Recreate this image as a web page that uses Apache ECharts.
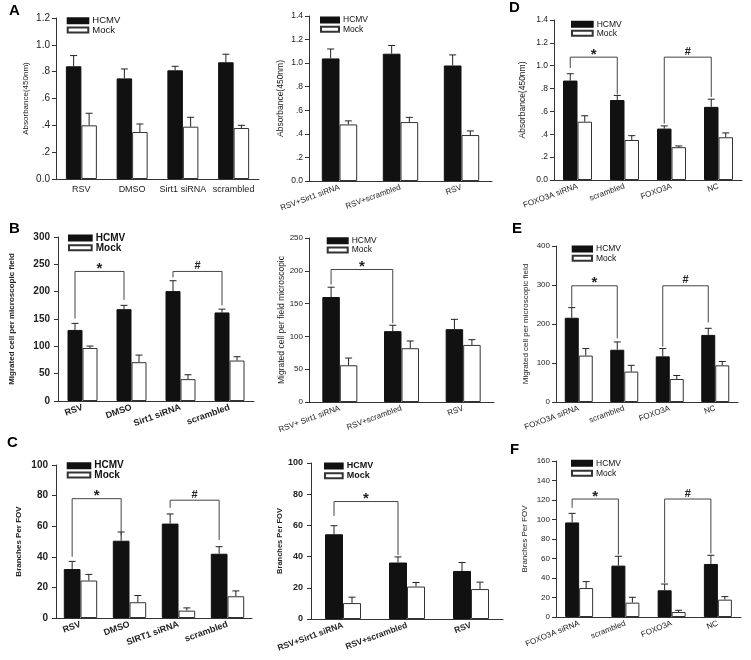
<!DOCTYPE html>
<html><head><meta charset="utf-8">
<script src="https://cdn.jsdelivr.net/npm/echarts@6/dist/echarts.min.js"></script>
<style>html,body{margin:0;padding:0;background:#fff}#c{width:751px;height:660px}</style>
</head><body><div id="c"></div>
<script>
// ---------- DATA ----------
var seriesNames = ['HCMV', 'Mock'];

// Panel A (left)
var A1_cats = ['RSV', 'DMSO', 'Sirt1 siRNA', 'scrambled'];
var A1_hcmv = [0.84, 0.75, 0.81, 0.87];
var A1_hcmvErr = [0.08, 0.07, 0.03, 0.06];
var A1_mock = [0.40, 0.35, 0.39, 0.38];
var A1_mockErr = [0.09, 0.06, 0.07, 0.02];
var A1_brackets = [];

// Panel A (right)
var A2_cats = ['RSV+Sirt1 siRNA', 'RSV+scrambled', 'RSV'];
var A2_hcmv = [1.04, 1.08, 0.98];
var A2_hcmvErr = [0.08, 0.07, 0.09];
var A2_mock = [0.48, 0.50, 0.39];
var A2_mockErr = [0.03, 0.04, 0.035];
var A2_brackets = [];

// Panel D
var D_cats = ['FOXO3A siRNA', 'scrambled', 'FOXO3A', 'NC'];
var D_hcmv = [0.87, 0.70, 0.45, 0.64];
var D_hcmvErr = [0.06, 0.04, 0.023, 0.067];
var D_mock = [0.51, 0.35, 0.287, 0.374];
var D_mockErr = [0.052, 0.038, 0.011, 0.038];
var D_brackets = [[0, 1, 1.075, 0.98, 0.75, '*'], [2, 3, 1.075, 0.494, 0.727, '#']];

// Panel B (left)
var B1_cats = ['RSV', 'DMSO', 'Sirt1 siRNA', 'scrambled'];
var B1_hcmv = [130, 168, 201, 162];
var B1_hcmvErr = [12, 7, 19, 6];
var B1_mock = [97, 71, 40, 74];
var B1_mockErr = [3.5, 13, 8, 7];
var B1_brackets = [[0, 1, 237, 151, 185, '*'], [2, 3, 237, 226, 175, '#']];

// Panel B (right)
var B2_cats = ['RSV+ Sirt1 siRNA', 'RSV+scrambled', 'RSV'];
var B2_hcmv = [160, 108, 111];
var B2_hcmvErr = [15, 9, 15];
var B2_mock = [56, 82, 87];
var B2_mockErr = [11, 11, 8];
var B2_brackets = [[0, 1, 202, 179, 120, '*']];

// Panel E
var E_cats = ['FOXO3A siRNA', 'scrambled', 'FOXO3A', 'NC'];
var E_hcmv = [216, 134, 117, 172];
var E_hcmvErr = [26, 20, 20, 17];
var E_mock = [119, 78, 59, 94];
var E_mockErr = [18, 16, 9, 10];
var E_brackets = [[0, 1, 298, 244, 163, '*'], [2, 3, 298, 142, 204, '#']];

// Panel C (left)
var C1_cats = ['RSV', 'DMSO', 'SIRT1 siRNA', 'scrambled'];
var C1_hcmv = [32, 50.5, 61.7, 42];
var C1_hcmvErr = [5, 5.7, 6.3, 4.6];
var C1_mock = [24.5, 10.3, 4.8, 14.2];
var C1_mockErr = [4, 4.4, 1.8, 3.5];
var C1_brackets = [[0, 1, 78, 40, 54, '*'], [2, 3, 77, 72, 51, '#']];

// Panel C (right)
var C2_cats = ['RSV+Sirt1 siRNA', 'RSV+scrambled', 'RSV'];
var C2_hcmv = [54.3, 36.2, 30.8];
var C2_hcmvErr = [5.5, 3.6, 5.4];
var C2_mock = [10.2, 20.8, 19.2];
var C2_mockErr = [3.8, 2.6, 4.4];
var C2_brackets = [[0, 1, 75.3, 66, 41, '*']];

// Panel F
var F_cats = ['FOXO3A siRNA', 'scrambled', 'FOXO3A', 'NC'];
var F_hcmv = [97, 52.7, 27.4, 54.4];
var F_hcmvErr = [9.3, 9.6, 6.4, 8.9];
var F_mock = [29.7, 14.7, 5.1, 17.8];
var F_mockErr = [6.6, 5.5, 1.8, 3.1];
var F_brackets = [[0, 1, 121, 112, 64, '*'], [2, 3, 121, 35, 65, '#']];

// ---------- LAYOUT ----------
var FONT = '"Liberation Sans", Arial, sans-serif';
function absFmt(v) { if (v === 0) return '0.0'; var s = v.toFixed(1); return v < 1 ? s.replace(/^0/, '') : s; }

var panels = [
  { letter: 'A', lx: 9, ly: 3, cats: A1_cats, h: A1_hcmv, he: A1_hcmvErr, m: A1_mock, me: A1_mockErr, br: A1_brackets,
    grid: [56, 18, 203, 161], max: 1.2, itv: 0.2, fmt: absFmt, name: 'Absorbance(450nm)', nameGap: 26, nameFs: 8,
    bw: 15.5, rot: 0, xfs: 9, yfs: 10, bold: false, leg: [66.7, 20.7, 9.3, 20.6, 9.5] },
  { cats: A2_cats, h: A2_hcmv, he: A2_hcmvErr, m: A2_mock, me: A2_mockErr, br: A2_brackets,
    grid: [309, 16, 183, 165], max: 1.4, itv: 0.2, fmt: absFmt, name: 'Absorbance(450nm)', nameGap: 24, nameFs: 8.5,
    bw: 17.7, rot: 20, xfs: 8, yfs: 8.5, bold: false, leg: [320, 20, 9.3, 18, 8.5] },
  { letter: 'D', lx: 509, ly: 0, cats: D_cats, h: D_hcmv, he: D_hcmvErr, m: D_mock, me: D_mockErr, br: D_brackets,
    grid: [554, 20, 188, 160], max: 1.4, itv: 0.2, fmt: absFmt, name: 'Absorbance(450nm)', nameGap: 27, nameFs: 8.5,
    bw: 14.5, rot: 20, xfs: 8, yfs: 8.5, bold: false, leg: [571, 24.3, 9, 20.7, 8.5] },
  { letter: 'B', lx: 9, ly: 221, cats: B1_cats, h: B1_hcmv, he: B1_hcmvErr, m: B1_mock, me: B1_mockErr, br: B1_brackets,
    grid: [58, 237, 196, 164], max: 300, itv: 50, name: 'Migrated cell per microscopic field', nameGap: 42, nameFs: 8,
    bw: 15, rot: 20, xfs: 9, yfs: 10, bold: true, leg: [68, 238, 9.8, 22.7, 10] },
  { cats: B2_cats, h: B2_hcmv, he: B2_hcmvErr, m: B2_mock, me: B2_mockErr, br: B2_brackets,
    grid: [309, 238, 185, 164], max: 250, itv: 50, name: 'Migrated cell per field microscopic', nameGap: 22, nameFs: 8.5,
    bw: 17.5, rot: 20, xfs: 8, yfs: 8, bold: false, leg: [326.7, 240.7, 9.3, 20, 8.5] },
  { letter: 'E', lx: 512, ly: 221, cats: E_cats, h: E_hcmv, he: E_hcmvErr, m: E_mock, me: E_mockErr, br: E_brackets,
    grid: [556, 246, 182, 156], max: 400, itv: 100, name: 'Migrated cell per microscopic field', nameGap: 26, nameFs: 8,
    bw: 14, rot: 20, xfs: 8, yfs: 8, bold: false, leg: [571.7, 249, 9.3, 19.3, 8.5] },
  { letter: 'C', lx: 7, ly: 435, cats: C1_cats, h: C1_hcmv, he: C1_hcmvErr, m: C1_mock, me: C1_mockErr, br: C1_brackets,
    grid: [56, 465, 196, 153], max: 100, itv: 20, name: 'Branches Per FOV', nameGap: 33, nameFs: 8,
    bw: 16.7, rot: 20, xfs: 9, yfs: 10, bold: true, leg: [66.7, 465.7, 9.3, 22.6, 10] },
  { cats: C2_cats, h: C2_hcmv, he: C2_hcmvErr, m: C2_mock, me: C2_mockErr, br: C2_brackets,
    grid: [311, 463, 192, 156], max: 100, itv: 20, name: 'Branches Per FOV', nameGap: 27, nameFs: 7.5,
    bw: 18, rot: 20, xfs: 8.5, yfs: 9, bold: true, leg: [324, 466, 9.7, 17.7, 9] },
  { letter: 'F', lx: 510, ly: 442, cats: F_cats, h: F_hcmv, he: F_hcmvErr, m: F_mock, me: F_mockErr, br: F_brackets,
    grid: [556, 461, 185, 156], max: 160, itv: 20, name: 'Branches Per FOV', nameGap: 27, nameFs: 8,
    bw: 14, rot: 22, xfs: 8, yfs: 8, bold: false, leg: [571, 463.3, 10, 20, 8.5] }
];

var option = { animation: false, backgroundColor: '#fff', textStyle: { fontFamily: FONT },
  title: [], grid: [], xAxis: [], yAxis: [], series: [], legend: [] };

function errRender(sign, bw) {
  return function (params, api) {
    var c = api.coord([api.value(0), api.value(1)]);
    var t = api.coord([api.value(0), api.value(2)]);
    var x = c[0] + sign * bw / 2;
    return { type: 'group', children: [
      { type: 'line', shape: { x1: x, y1: c[1], x2: x, y2: t[1] }, style: { stroke: '#222', lineWidth: 1 } },
      { type: 'line', shape: { x1: x - 3.5, y1: t[1], x2: x + 3.5, y2: t[1] }, style: { stroke: '#222', lineWidth: 1 } }
    ] };
  };
}
function bracketRender(list, bw, bold) {
  return function (params, api) {
    var b = list[params.dataIndex];
    var p1 = api.coord([b[0], b[2]]), p2 = api.coord([b[1], b[2]]);
    var l = api.coord([b[0], b[3]]), r = api.coord([b[1], b[4]]);
    var x1 = p1[0] - bw / 2, x2 = p2[0] - bw / 2;
    var star = b[5] === '*';
    return { type: 'group', children: [
      { type: 'polyline', shape: { points: [[x1, l[1]], [x1, p1[1]], [x2, p1[1]], [x2, r[1]]] },
        style: { stroke: '#444', fill: null, lineWidth: 1 } },
      { type: 'text', x: (x1 + x2) / 2, y: p1[1] + (star ? 5 : 0),
        style: { text: b[5], align: 'center', verticalAlign: 'bottom', fontFamily: FONT,
          fontSize: star ? 15 : 11, fontWeight: 'bold', fill: '#222' } }
    ] };
  };
}

panels.forEach(function (p, i) {
  var g = p.grid;
  var fw = p.bold ? 'bold' : 'normal';
  if (p.letter) option.title.push({ text: p.letter, left: p.lx, top: p.ly, padding: 0,
    textStyle: { fontSize: 15, fontWeight: 'bold', color: '#000', fontFamily: FONT } });
  option.grid.push({ left: g[0], top: g[1], width: g[2], height: g[3], containLabel: false });
  option.xAxis.push({ type: 'category', gridIndex: i, data: p.cats, boundaryGap: true,
    axisLine: { lineStyle: { color: '#333', width: 1 } }, axisTick: { show: false },
    axisLabel: { interval: 0, rotate: p.rot, margin: 6, fontSize: p.xfs, fontWeight: fw, color: '#222', fontFamily: FONT } });
  option.yAxis.push({ type: 'value', gridIndex: i, min: 0, max: p.max, interval: p.itv,
    name: p.name, nameLocation: 'middle', nameGap: p.nameGap,
    nameTextStyle: { fontSize: p.nameFs, fontWeight: fw, color: '#222', fontFamily: FONT },
    axisLine: { show: true, lineStyle: { color: '#333', width: 1 } },
    axisTick: { show: true, length: 4, inside: false, lineStyle: { color: '#333' } },
    splitLine: { show: false },
    axisLabel: { margin: p.bold ? 8 : 6, fontSize: p.yfs, fontWeight: fw, color: '#222', fontFamily: FONT,
      formatter: p.fmt || function (v) { return String(v); } } });
  option.series.push({ name: 'HCMV', type: 'bar', xAxisIndex: i, yAxisIndex: i, data: p.h,
    barWidth: p.bw, barGap: '0%', itemStyle: { color: '#111', borderColor: '#111', borderWidth: 1 } });
  option.series.push({ name: 'Mock', type: 'bar', xAxisIndex: i, yAxisIndex: i, data: p.m,
    barWidth: p.bw, barGap: '0%', itemStyle: { color: '#fff', borderColor: '#333', borderWidth: 1 } });
  option.series.push({ type: 'custom', xAxisIndex: i, yAxisIndex: i, z: 5, clip: false,
    data: p.h.map(function (v, j) { return [j, v, v + p.he[j]]; }), renderItem: errRender(-1, p.bw) });
  option.series.push({ type: 'custom', xAxisIndex: i, yAxisIndex: i, z: 5, clip: false,
    data: p.m.map(function (v, j) { return [j, v, v + p.me[j]]; }), renderItem: errRender(1, p.bw) });
  if (p.br.length) option.series.push({ type: 'custom', xAxisIndex: i, yAxisIndex: i, z: 6, clip: false,
    data: p.br.map(function (b) { return [b[0], b[2]]; }), renderItem: bracketRender(p.br, p.bw, p.bold) });
  var L = p.leg, lh = L[4] + 1;
  option.legend.push({ data: seriesNames, orient: 'vertical', left: L[0], top: L[1] - lh / 2,
    itemGap: L[2] - lh, itemWidth: L[3], itemHeight: 5, icon: 'rect', padding: 0, selectedMode: false,
    textStyle: { fontSize: L[4], lineHeight: lh, fontWeight: p.bold ? 'bold' : 'normal', color: '#111', fontFamily: FONT, padding: [0, 0, 0, -1] } });
});

var chart = echarts.init(document.getElementById('c'), null, { renderer: 'canvas' });
chart.setOption(option);
</script></body></html>
